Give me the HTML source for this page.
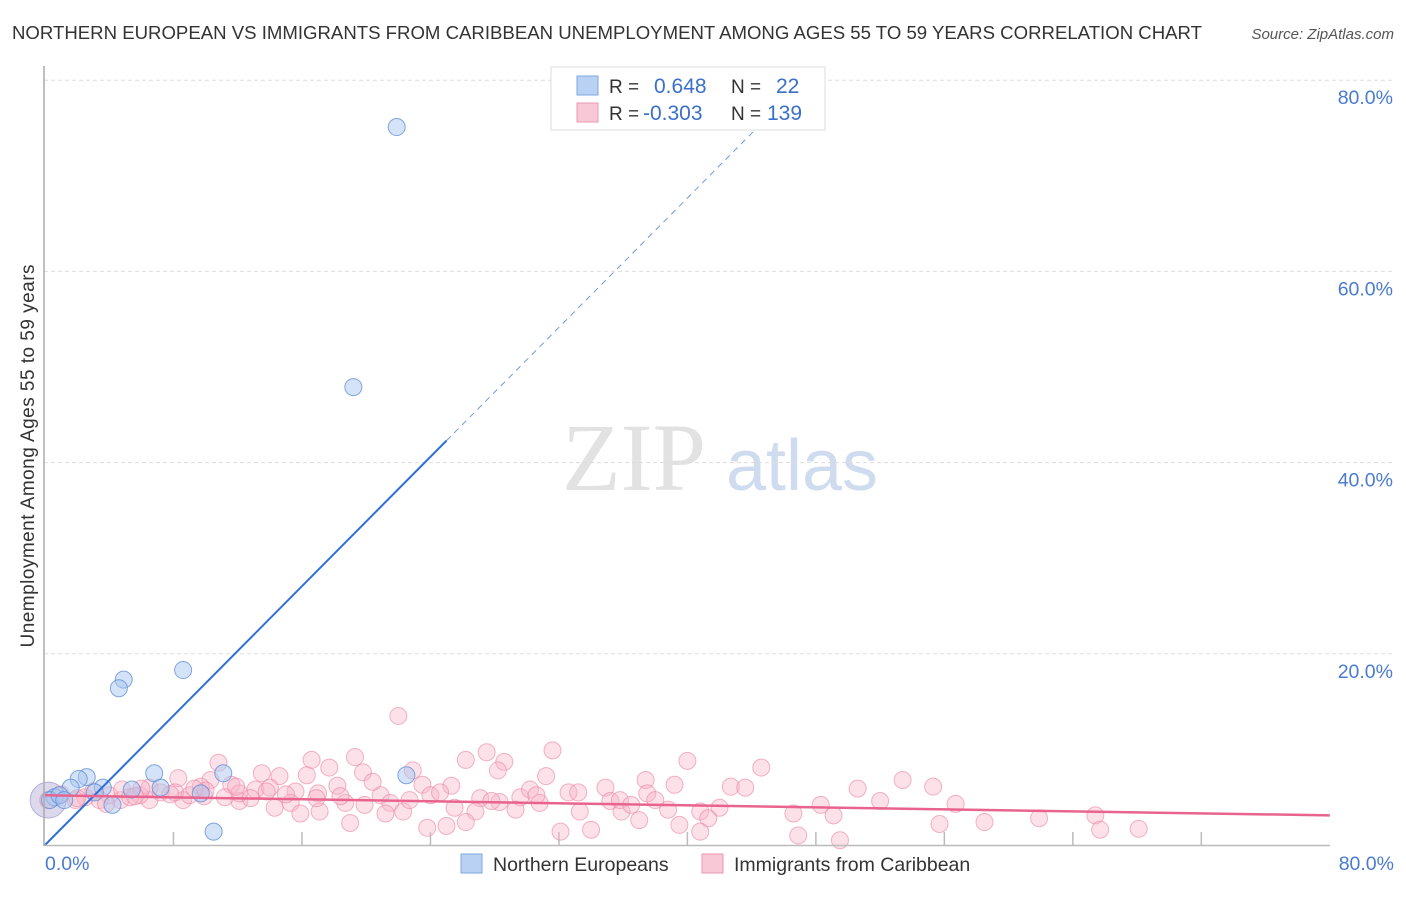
<!DOCTYPE html>
<html><head><meta charset="utf-8"><style>
body{margin:0;background:#fff;font-family:"Liberation Sans",sans-serif}
</style></head><body>
<svg id="chart" width="1406" height="892" xmlns="http://www.w3.org/2000/svg" font-family="Liberation Sans, sans-serif">
<text x="12" y="39" font-size="18.6" fill="#333" textLength="1190">NORTHERN EUROPEAN VS IMMIGRANTS FROM CARIBBEAN UNEMPLOYMENT AMONG AGES 55 TO 59 YEARS CORRELATION CHART</text>
<text x="1394" y="39" font-size="15" fill="#555" text-anchor="end" font-style="italic">Source: ZipAtlas.com</text>
<g>
<text x="634" y="490" font-size="96" font-family="Liberation Serif, serif" fill="#e2e2e2" text-anchor="middle">ZIP</text>
<text x="802" y="490" font-size="72" fill="#cfdcf0" text-anchor="middle">atlas</text>
</g>
<g id="grid"></g>
<g id="pts"></g>
<g id="lines"></g>
<line x1="44" y1="66" x2="44" y2="846" stroke="#aaa" stroke-width="1.5"/>
<line x1="44" y1="845.5" x2="1330" y2="845.5" stroke="#bbb" stroke-width="1.5"/>
<text transform="translate(34,456) rotate(-90)" font-size="19" fill="#333" text-anchor="middle" textLength="383">Unemployment Among Ages 55 to 59 years</text>
<text x="45" y="870" font-size="19.5" fill="#4a7bd0">0.0%</text>
<text x="1394" y="870" font-size="19.5" fill="#4a7bd0" text-anchor="end">80.0%</text>
<g>
<rect x="551" y="67" width="274" height="63" fill="#fff" stroke="#ddd"/>
<rect x="577" y="76" width="21" height="19" fill="#b9d1f3" stroke="#7ea7e2"/>
<rect x="577" y="103" width="21" height="19" fill="#f9c8d6" stroke="#eb97b0"/>
<text x="609" y="93" font-size="19" fill="#333">R =</text>
<text x="654" y="93" font-size="21" fill="#3a70c9">0.648</text>
<text x="731" y="93" font-size="19" fill="#333">N =</text>
<text x="776" y="93" font-size="21" fill="#3a70c9">22</text>
<text x="609" y="120" font-size="19" fill="#333">R =</text>
<text x="643" y="120" font-size="21" fill="#3a70c9">-0.303</text>
<text x="731" y="120" font-size="19" fill="#333">N =</text>
<text x="767" y="120" font-size="21" fill="#3a70c9">139</text>
</g>
<g>
<rect x="461" y="854" width="21" height="19" fill="#b9d1f3" stroke="#7ea7e2"/>
<text x="493" y="871" font-size="19.5" fill="#333">Northern Europeans</text>
<rect x="702" y="854" width="21" height="19" fill="#f9c8d6" stroke="#eb97b0"/>
<text x="734" y="871" font-size="19.5" fill="#333">Immigrants from Caribbean</text>
</g>
</svg>
<script>
const yTicks=[20,40,60,80];
const xTicks=[8,16,24,32,40,48,56,64,72];
const blueX=[21.9,19.2,8.6,4.9,4.6,6.8,11.1,22.5,2.6,2.1,1.6,3.6,5.4,7.2,9.7,4.2,10.5,0.6,0.3,0.9,3.1,1.2];
const blueY=[75.1,47.9,18.3,17.3,16.4,7.5,7.5,7.3,7.1,6.9,6.0,6.0,5.8,6.0,5.4,4.2,1.4,5.0,4.7,5.2,5.5,4.7];
const pinkX=[22.0,31.6,27.5,26.2,40.0,19.3,16.6,10.8,28.6,44.6,17.7,28.2,13.5,19.8,22.9,16.3,31.2,14.6,53.4,37.4,8.3,10.3,55.3,50.6,39.2,42.7,18.2,23.5,25.3,11.6,9.7,34.9,32.6,33.2,37.5,43.6,13.1,14.0,15.6,17.0,20.9,24.0,29.6,27.1,52.0,38.0,35.2,48.3,56.7,30.8,28.3,21.5,18.7,15.3,12.1,8.6,6.5,4.7,5.9,4.0,8.1,6.5,4.8,9.9,25.5,29.3,26.8,33.3,35.9,38.8,40.8,42.0,46.6,49.1,65.4,61.9,58.5,55.7,41.3,39.5,37.0,26.2,25.0,23.8,19.0,15.9,17.1,21.2,22.3,14.3,32.1,34.0,40.8,46.9,49.5,65.7,68.1,11.2,12.1,7.2,2.5,1.9,3.4,5.3,9.0,18.4,19.9,22.7,30.2,35.8,0.2,1.0,2.0,3.0,6.0,7.8,10.0,12.8,13.8,20.4,24.6,27.8,30.6,36.5,3.8,5.6,9.3,11.9,15.0,16.9];
const pinkY=[13.5,9.9,9.7,8.9,8.8,9.2,8.9,8.6,8.7,8.1,8.1,7.8,7.5,7.6,7.8,7.3,7.2,7.2,6.8,6.8,7.0,6.8,6.1,5.9,6.3,6.1,6.2,6.3,6.2,6.3,6.1,6.0,5.5,5.5,5.4,6.0,5.8,6.0,5.6,5.4,5.2,5.2,5.0,4.9,4.6,4.7,4.6,4.2,4.3,4.4,4.5,4.4,4.4,4.4,4.6,4.7,4.7,4.7,5.2,5.2,5.5,6.0,5.8,5.1,3.9,3.7,3.5,3.5,3.5,3.7,3.5,3.9,3.3,3.1,3.1,2.8,2.4,2.2,2.8,2.1,2.6,2.4,2.0,1.8,2.3,3.3,3.5,3.3,3.5,3.9,1.4,1.6,1.4,1.0,0.5,1.6,1.7,5.0,5.4,5.5,5.0,4.7,4.7,5.0,5.2,5.1,4.2,4.7,5.8,4.7,4.7,5.3,4.9,5.6,5.9,5.3,5.7,4.9,5.6,6.6,5.5,4.6,5.2,4.2,4.3,5.1,5.9,6.1,5.3,4.9];
const blueTrend=[[0,0],[25,42.3]];
const blueDash=[[25,42.3],[44.8,75.8]];
const pinkTrend=[[0,5.2],[80,3.1]];
const NS="http://www.w3.org/2000/svg";
function xs(v){return 45+v*16.06;}
function ys(v){return 845-v*9.56;}
function mk(t,a,p){const e=document.createElementNS(NS,t);for(const k in a)e.setAttribute(k,a[k]);p.appendChild(e);return e;}
const grid=document.getElementById('grid');
yTicks.forEach(t=>{
 const l=mk('line',{x1:44,x2:1393,y1:ys(t),y2:ys(t),stroke:'#ddd','stroke-dasharray':'4,3'},grid);
 
 
 const tx=mk('text',{x:1393,y:ys(t)+24,'font-size':19.5,fill:'#4a7bd0','text-anchor':'end'},grid);
 tx.textContent=t.toFixed(1)+'%';
 
 
});
xTicks.forEach(t=>{
 const l=mk('line',{x1:xs(t),x2:xs(t),y1:832,y2:845,stroke:'#bbb','stroke-width':1.5},grid);
 
 
});
const pts=document.getElementById('pts');
const big1=mk('circle',{cx:xs(0.2),cy:ys(4.7),r:18,fill:'rgba(180,170,215,0.45)',stroke:'rgba(150,150,210,0.7)'},pts);


pinkX.forEach((x,i)=>{
 const c=mk('circle',{cx:xs(x),cy:ys(pinkY[i]),r:8.5,fill:'rgba(248,180,200,0.4)',stroke:'rgba(236,130,160,0.6)','stroke-width':1},pts);
 
 
});
blueX.forEach((x,i)=>{
 const c=mk('circle',{cx:xs(x),cy:ys(blueY[i]),r:8.5,fill:'rgba(170,200,240,0.5)',stroke:'rgba(90,140,215,0.75)','stroke-width':1},pts);
 
 
});
const lines=document.getElementById('lines');
const bl=mk('line',{x1:xs(blueTrend[0][0]),y1:ys(blueTrend[0][1]),x2:xs(blueTrend[1][0]),y2:ys(blueTrend[1][1]),stroke:'#2f6fd6','stroke-width':2},lines);


const bd=mk('line',{x1:xs(blueDash[0][0]),y1:ys(blueDash[0][1]),x2:xs(blueDash[1][0]),y2:ys(blueDash[1][1]),stroke:'#6a9be0','stroke-width':1,'stroke-dasharray':'6,5'},lines);


const pl=mk('line',{x1:xs(pinkTrend[0][0]),y1:ys(pinkTrend[0][1]),x2:xs(pinkTrend[1][0]),y2:ys(pinkTrend[1][1]),stroke:'#e8648e','stroke-width':2.5},lines);


</script>
</body></html>
